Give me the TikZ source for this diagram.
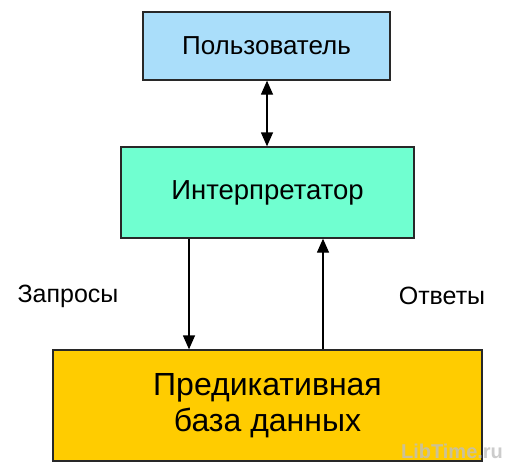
\documentclass[tikz,border=0pt]{standalone}
\usepackage{fontspec}
\setmainfont{Liberation Sans}
\usetikzlibrary{arrows.meta}
\definecolor{userblue}{RGB}{170,222,250}
\definecolor{interp}{RGB}{112,255,208}
\definecolor{dbyellow}{RGB}{255,204,0}
\definecolor{edge}{RGB}{40,40,40}
\begin{document}
\begin{tikzpicture}[x=1pt,y=-1pt,
  box/.style={draw=edge,line width=1.3pt,inner sep=0pt,align=center},
  tip/.style={Triangle[width=12pt,length=14pt]},
  conn/.style={line width=1.3pt,-{Triangle[width=12pt,length=14pt]}},
  lbl/.style={font=\fontsize{25}{30}\selectfont}]
\useasboundingbox (0,0) rectangle (513,466);
\node[box,fill=userblue,minimum width=247pt,minimum height=68pt,font=\fontsize{26}{30}\selectfont] (user) at (266.5,46) {Пользователь};
\node[box,fill=interp,minimum width=293pt,minimum height=91pt,font=\fontsize{27.5}{32}\selectfont] (int) at (267.5,192.5) {Интерпретатор};
\node[box,fill=dbyellow,minimum width=429pt,minimum height=111pt,font=\fontsize{32}{36}\selectfont] (db) at (267.5,405.5) {Предикативная\\база данных};
\draw[line width=1.3pt,{Triangle[width=12pt,length=14pt]}-{Triangle[width=12pt,length=14pt]}] (user.south -| 267,0) -- (int.north -| 267,0);
\draw[conn] (int.south -| 189,0) -- (db.north -| 189,0);
\draw[conn] (db.north -| 323,0) -- (int.south -| 323,0);
\node[lbl] (q) at (68,296) {Запросы};
\node[lbl] (a) at (442,296) {Ответы};
\node[font=\bfseries\fontsize{20}{24}\selectfont,text=black!25,opacity=0.8] (wm) at (452,451) {LibTime.ru};
\end{tikzpicture}
\end{document}
